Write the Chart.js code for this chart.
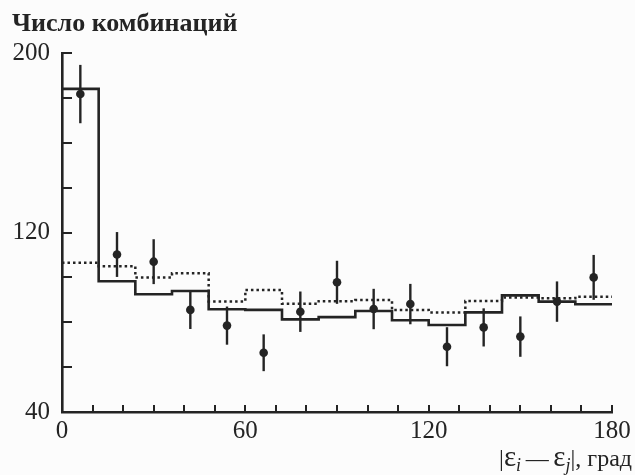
<!DOCTYPE html>
<html>
<head>
<meta charset="utf-8">
<script src="https://cdn.jsdelivr.net/npm/chart.js@4/dist/chart.umd.min.js"></script>
<style>
  html, body { margin: 0; padding: 0; background: #fcfcfc; }
  #wrap { width: 635px; height: 475px; position: relative; }
</style>
</head>
<body>
<div id="wrap"><canvas id="c" width="635" height="475"></canvas></div>
<script>
// Angle bins, 12 degrees wide, 0..180
const binWidth = 12;
const binStarts = [0, 12, 24, 36, 48, 60, 72, 84, 96, 108, 120, 132, 144, 156, 168];

// Simulated distribution (solid step line)
const solidCounts = [184, 98.3, 92.5, 93.9, 85.8, 85.5, 81.3, 82.3, 85, 80.9, 78.8, 84.4, 92, 89.2, 88];
// Alternative simulation (dotted step line)
const dottedCounts = [106.5, 105, 100, 101.8, 89.2, 94.4, 88.3, 89.4, 89.9, 85.5, 84.4, 89.5, 91, 90.7, 91.4];
// Measured combinations and their statistical errors
const measured = [181.7, 110.2, 107, 85.5, 78.5, 66.4, 84.7, 97.8, 85.9, 88.1, 69.1, 77.7, 73.6, 89.2, 100];
const measuredErr = [13, 10, 10, 8.5, 8.5, 8.2, 9, 9.6, 9, 9, 8.7, 8.5, 9, 9, 10];

// Axis labels
const xTickLabels = [0, 60, 120, 180];
const yTickLabels = [40, 120, 200];
const xMinorStep = 10;
const yMinorStep = 20;

const ink = '#242424';
const serif = '"Liberation Serif", "DejaVu Serif", serif';

// Step-line points: left edge of each bin, plus closing point at the last edge
function stepPoints(values) {
  const pts = binStarts.map((x, i) => ({ x: x, y: values[i] }));
  pts.push({ x: binStarts[binStarts.length - 1] + binWidth, y: values[values.length - 1] });
  return pts;
}
const centers = binStarts.map(x => x + binWidth / 2);

// Vertical error bars under the measured points
const errorBars = {
  id: 'errorBars',
  beforeDatasetsDraw(chart) {
    const { ctx, scales: { x, y } } = chart;
    ctx.save();
    ctx.strokeStyle = ink;
    ctx.lineWidth = 2.4;
    measured.forEach((v, i) => {
      const px = x.getPixelForValue(centers[i]);
      ctx.beginPath();
      ctx.moveTo(px, y.getPixelForValue(v + measuredErr[i]));
      ctx.lineTo(px, y.getPixelForValue(v - measuredErr[i]));
      ctx.stroke();
    });
    ctx.restore();
  }
};

// Inward tick marks along both axes, plus axis titles
const axisDecor = {
  id: 'axisDecor',
  afterDraw(chart) {
    const { ctx, scales: { x, y }, chartArea: a } = chart;
    ctx.save();
    ctx.strokeStyle = ink;
    ctx.lineWidth = 2;
    for (let v = x.min + xMinorStep; v <= x.max + 0.01; v += xMinorStep) {
      const px = Math.round(x.getPixelForValue(v));
      ctx.beginPath();
      ctx.moveTo(px, a.bottom);
      ctx.lineTo(px, a.bottom - 7);
      ctx.stroke();
    }
    for (let v = y.min + yMinorStep; v <= y.max + 0.01; v += yMinorStep) {
      const py = Math.round(y.getPixelForValue(v));
      ctx.beginPath();
      ctx.moveTo(a.left, py);
      ctx.lineTo(a.left + 10, py);
      ctx.stroke();
    }

    ctx.fillStyle = ink;
    ctx.textBaseline = 'alphabetic';
    ctx.textAlign = 'left';
    ctx.font = 'bold 26px ' + serif;
    ctx.fillText('Число комбинаций', 12, 31);

    // |ε_i − ε_j|, град
    const parts = [
      { t: '|', f: '24px ' + serif, dy: 0 },
      { t: 'ε', f: '29px ' + serif, dy: 0 },
      { t: 'i', f: 'italic 18px ' + serif, dy: 5 },
      { t: '\u2009\u2014\u2009', f: '23px ' + serif, dy: 0 },
      { t: 'ε', f: '29px ' + serif, dy: 0 },
      { t: 'j', f: 'italic 18px ' + serif, dy: 5 },
      { t: '|, град', f: '24px ' + serif, dy: 0 }
    ];
    let total = 0;
    parts.forEach(p => { ctx.font = p.f; p.w = ctx.measureText(p.t).width; total += p.w; });
    let cx = 632 - total;
    const base = 466;
    parts.forEach(p => {
      ctx.font = p.f;
      ctx.fillText(p.t, cx, base + p.dy);
      cx += p.w;
    });
    ctx.restore();
  }
};

new Chart(document.getElementById('c'), {
  type: 'line',
  data: {
    datasets: [
      {
        label: 'solid',
        data: stepPoints(solidCounts),
        stepped: 'before',
        borderColor: ink,
        borderWidth: 2.6,
        pointRadius: 0,
        fill: false
      },
      {
        label: 'dotted',
        data: stepPoints(dottedCounts),
        stepped: 'before',
        borderColor: ink,
        borderWidth: 2.5,
        borderDash: [2.5, 3],
        pointRadius: 0,
        fill: false
      },
      {
        label: 'measured',
        type: 'scatter',
        data: centers.map((x, i) => ({ x: x, y: measured[i] })),
        pointRadius: 4.3,
        pointBackgroundColor: ink,
        pointBorderColor: ink,
        pointBorderWidth: 0,
        showLine: false
      }
    ]
  },
  options: {
    responsive: false,
    animation: false,
    devicePixelRatio: 1,
    layout: { padding: { top: 53, right: 23, left: 0, bottom: 0 } },
    plugins: { legend: { display: false }, tooltip: { enabled: false }, title: { display: false } },
    scales: {
      x: {
        type: 'linear',
        min: 0, max: 180,
        grid: { display: false, drawTicks: false },
        border: { display: true, color: ink, width: 2.6 },
        afterBuildTicks(s) { s.ticks = xTickLabels.map(v => ({ value: v })); },
        afterFit(s) { s.height = 63; },
        ticks: {
          color: ink,
          padding: 4,
          maxRotation: 0,
          autoSkip: false,
          font: { family: serif, size: 25 }
        }
      },
      y: {
        type: 'linear',
        min: 40, max: 200,
        grid: { display: false, drawTicks: false },
        border: { display: true, color: ink, width: 2.6 },
        afterBuildTicks(s) { s.ticks = yTickLabels.map(v => ({ value: v })); },
        afterFit(s) { s.width = 62; },
        ticks: {
          color: ink,
          padding: 12,
          autoSkip: false,
          font: { family: serif, size: 25 }
        }
      }
    }
  },
  plugins: [errorBars, axisDecor]
});
</script>
</body>
</html>
